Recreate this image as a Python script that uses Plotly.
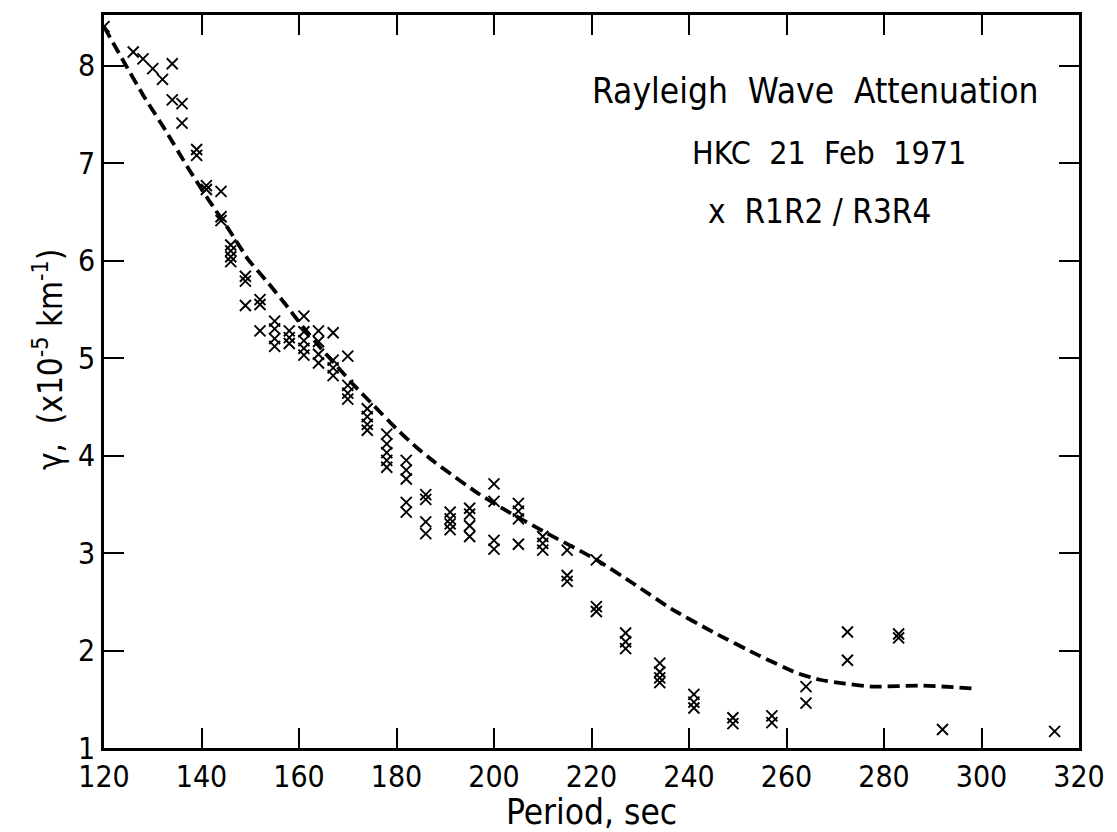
import plotly.graph_objects as go

# Measured attenuation points (period in sec, gamma in 1e-5 km^-1)
period = [
    120,
    126, 128, 130, 132,
    134, 134,
    136, 136,
    139, 139,
    141, 141,
    144, 144, 144,
    146, 146, 146, 146,
    149, 149, 149,
    152, 152, 152,
    155, 155, 155, 155,
    158, 158, 158,
    161, 161, 161, 161, 161,
    164, 164, 164, 164,
    167, 167, 167, 167,
    170, 170, 170, 170,
    174, 174, 174, 174,
    178, 178, 178, 178, 178,
    182, 182, 182, 182, 182,
    186, 186, 186, 186,
    191, 191, 191, 191,
    195, 195, 195, 195,
    200, 200, 200, 200,
    205, 205, 205, 205,
    210, 210, 210,
    215, 215, 215,
    221, 221, 221,
    227, 227, 227,
    234, 234, 234, 234,
    241, 241, 241,
    249, 249,
    257, 257,
    264, 264,
    272.5, 272.5,
    283, 283,
    292,
    315,
]
gamma = [
    8.40,
    8.14, 8.07, 7.97, 7.86,
    8.02, 7.65,
    7.61, 7.41,
    7.14, 7.08,
    6.77, 6.73,
    6.71, 6.45, 6.41,
    6.16, 6.10, 6.04, 5.99,
    5.84, 5.79, 5.54,
    5.60, 5.55, 5.28,
    5.38, 5.30, 5.20, 5.12,
    5.28, 5.21, 5.15,
    5.43, 5.27, 5.18, 5.10, 5.03,
    5.28, 5.17, 5.04, 4.95,
    5.26, 4.98, 4.90, 4.82,
    5.02, 4.72, 4.64, 4.58,
    4.48, 4.40, 4.32, 4.26,
    4.22, 4.12, 4.03, 3.95, 3.88,
    3.95, 3.85, 3.76, 3.52, 3.42,
    3.60, 3.55, 3.32, 3.20,
    3.42, 3.35, 3.30, 3.24,
    3.46, 3.40, 3.28, 3.17,
    3.71, 3.53, 3.13, 3.04,
    3.51, 3.43, 3.35, 3.09,
    3.17, 3.10, 3.03,
    3.03, 2.77, 2.71,
    2.93, 2.45, 2.40,
    2.18, 2.09, 2.02,
    1.87, 1.78, 1.72, 1.67,
    1.55, 1.47, 1.41,
    1.31, 1.25,
    1.33, 1.26,
    1.63, 1.46,
    2.19, 1.90,
    2.17, 2.13,
    1.19,
    1.17,
]

# Dashed model curve
curve_period = [120, 124.3, 128, 132.7, 137.5, 141.5, 145.6, 149.6, 153.7, 157.1, 160.5,
                164.5, 167.9, 171.3, 175.4, 180.1, 184.2, 187.9, 196.5, 202, 210.6, 220.7,
                228.5, 236.3, 244.9, 254.3, 262.1, 266.8, 272, 277.7, 287.9, 298.8]
curve_gamma = [8.40, 8.02, 7.70, 7.33, 6.93, 6.62, 6.32, 6.01, 5.77, 5.56, 5.34,
               5.10, 4.91, 4.72, 4.51, 4.27, 4.08, 3.93, 3.62, 3.45, 3.21, 2.94,
               2.69, 2.43, 2.19, 1.95, 1.77, 1.70, 1.66, 1.63, 1.64, 1.61]

x_ticks = [120, 140, 160, 180, 200, 220, 240, 260, 280, 300, 320]
y_ticks = [1, 2, 3, 4, 5, 6, 7, 8]

FONT = "Liberation Sans Narrow, DejaVu Sans Condensed, Liberation Sans, sans-serif"

fig = go.Figure()
fig.add_trace(go.Scatter(
    x=curve_period, y=curve_gamma, mode="lines",
    line=dict(color="black", width=3.8, dash="12px,6px", shape="spline", smoothing=0.5),
    showlegend=False, hoverinfo="skip"))
fig.add_trace(go.Scatter(
    x=period, y=gamma, mode="markers",
    marker=dict(symbol="x-thin", size=11, color="black",
                line=dict(color="black", width=1.9)),
    showlegend=False))

fig.add_annotation(x=266.0, y=7.74, text="Rayleigh  Wave  Attenuation", showarrow=False,
                   font=dict(size=35, color="black", family=FONT))
fig.add_annotation(x=268.8, y=7.10, text="HKC  21  Feb  1971", showarrow=False,
                   font=dict(size=32, color="black", family=FONT))
fig.add_annotation(x=266.8, y=6.50, text="x  R1R2 / R3R4", showarrow=False,
                   font=dict(size=33, color="black", family=FONT))

# y-axis title placed to match the original
fig.add_annotation(xref="paper", yref="paper", x=-0.081, y=0.53,
                   text="γ,  (x10<sup>-5</sup> km<sup>-1</sup>)", textangle=-90,
                   showarrow=False, font=dict(size=33, color="black", family=FONT))

axis_common = dict(
    showline=True, linecolor="black", linewidth=2.6, mirror="ticks",
    ticks="inside", ticklen=20, tickwidth=1.8, tickcolor="black",
    showgrid=False, zeroline=False,
    tickfont=dict(size=30, color="black", family=FONT),
)
fig.update_xaxes(range=[120, 320], tickvals=x_ticks, ticktext=[str(v) for v in x_ticks],
                 title=dict(text="Period, sec", font=dict(size=35, color="black", family=FONT),
                            standoff=0),
                 **axis_common)
fig.update_yaxes(range=[1, 8.52], tickvals=y_ticks, ticktext=[str(v) for v in y_ticks],
                 **axis_common)

fig.update_layout(
    width=1117, height=832,
    margin=dict(l=104, r=28, t=12, b=84),
    paper_bgcolor="white", plot_bgcolor="white",
    font=dict(family=FONT, color="black"),
)

fig.write_html("out.html")
